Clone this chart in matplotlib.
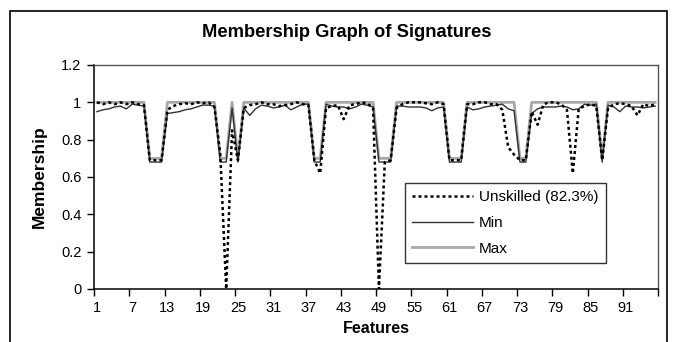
import numpy as np
import matplotlib
matplotlib.use("Agg")
import matplotlib.pyplot as plt
from matplotlib.patches import Rectangle

plt.rcParams['font.family'] = ['Liberation Sans', 'DejaVu Sans']

# membership values per feature (1..96)
features = np.arange(1, 97)

unskilled = [1.0, 0.99, 1.0, 0.99, 1.0, 0.99, 1.0, 0.99, 0.985, 0.69,
             0.69, 0.69, 0.96, 0.98, 0.99, 0.995, 0.99, 1.0, 0.995, 1.0,
             0.975, 0.72, 0.0, 0.85, 0.69, 0.97, 0.985, 0.99, 1.0, 0.99,
             0.99, 0.98, 0.985, 0.99, 1.0, 0.99, 0.985, 0.69, 0.62, 0.97,
             0.98, 0.985, 0.91, 0.985, 0.99, 1.0, 0.995, 0.97, 0.0, 0.68,
             0.69, 0.97, 0.99, 1.0, 1.0, 1.0, 0.995, 0.99, 1.0, 0.99,
             0.69, 0.69, 0.69, 0.99, 0.99, 1.0, 1.0, 0.99, 0.99, 0.96,
             0.76, 0.72, 0.69, 0.69, 0.95, 0.88, 0.99, 1.0, 1.0, 0.99,
             0.96, 0.62, 0.965, 0.98, 0.99, 0.98, 0.69, 0.97, 0.99, 0.995,
             0.99, 0.98, 0.93, 0.99, 0.98, 0.99]

min_vals = [0.95, 0.96, 0.965, 0.975, 0.98, 0.965, 0.99, 0.985, 0.98, 0.68,
            0.68, 0.68, 0.94, 0.945, 0.95, 0.96, 0.965, 0.975, 0.985, 0.985,
            0.98, 0.68, 0.68, 0.97, 0.68, 0.97, 0.93, 0.965, 0.985, 0.98,
            0.97, 0.975, 0.985, 0.96, 0.975, 0.99, 0.99, 0.68, 0.68, 0.99,
            0.98, 0.975, 0.975, 0.965, 0.975, 0.99, 0.985, 0.975, 0.68, 0.68,
            0.68, 0.98, 0.98, 0.975, 0.975, 0.975, 0.97, 0.955, 0.97, 0.975,
            0.68, 0.68, 0.68, 0.975, 0.96, 0.965, 0.975, 0.98, 0.985, 0.99,
            0.965, 0.955, 0.68, 0.68, 0.94, 0.965, 0.975, 0.975, 0.975, 0.98,
            0.975, 0.96, 0.965, 0.99, 0.985, 0.99, 0.68, 0.985, 0.975, 0.95,
            0.98, 0.975, 0.975, 0.97, 0.975, 0.98]

max_vals = [1.0] * 96
for i in [10, 11, 12, 22, 23, 25, 38, 39, 49, 50, 51, 61, 62, 63, 73, 74, 87]:
    max_vals[i - 1] = 0.70

x_labels = [str(v) for v in range(1, 97, 6)]
y_ticks = [0, 0.2, 0.4, 0.6, 0.8, 1.0, 1.2]
y_labels = ['0', '0.2', '0.4', '0.6', '0.8', '1', '1.2']

fig = plt.figure(figsize=(6.79, 3.42), dpi=100)
ax = fig.add_axes([94 / 679, 53 / 342, 564 / 679, 224 / 342])

ax.plot(features, max_vals, color='#a8a8a8', lw=2.0, label='Max', zorder=2)
ax.plot(features, min_vals, color='#333333', lw=1.0, label='Min', zorder=3)
ax.plot(features, unskilled, color='black', lw=1.8, dashes=(1.2, 1.2),
        label='Unskilled (82.3%)', zorder=4)

ax.set_xlim(0.5, 96.5)
ax.set_ylim(0, 1.2)

# tick marks between categories, labels on the categories
ax.set_xticks(np.arange(0.5, 97, 6))
ax.set_xticklabels([])
ax.set_xticks(np.arange(1, 97, 6), minor=True)
ax.set_xticklabels(x_labels, minor=True, fontsize=10.5)
ax.tick_params(axis='x', which='major', direction='out', length=5, width=1)
ax.tick_params(axis='x', which='minor', length=0, pad=9)
ax.set_yticks(y_ticks)
ax.set_yticklabels(y_labels, fontsize=10.5)
ax.tick_params(axis='y', direction='out', length=5, width=1, pad=4)

for side in ['left', 'bottom']:
    ax.spines[side].set_color('black')
    ax.spines[side].set_linewidth(1.1)
for side in ['top', 'right']:
    ax.spines[side].set_color('#555555')
    ax.spines[side].set_linewidth(1.0)

ax.set_xlabel('Features', fontsize=11.5, fontweight='bold', labelpad=4)
ax.set_ylabel('Membership', fontsize=12.5, fontweight='bold', labelpad=10)
fig.text(0.511, 0.905, 'Membership Graph of Signatures', ha='center',
         va='center', fontsize=13.2, fontweight='bold')

handles, labels = ax.get_legend_handles_labels()
order = [2, 1, 0]
leg = ax.legend([handles[i] for i in order], [labels[i] for i in order],
                loc='upper left', bbox_to_anchor=((405 - 94) / 564, (289 - 183) / 224),
                borderaxespad=0, fontsize=11, frameon=True, fancybox=False,
                handlelength=4.0, labelspacing=0.76, borderpad=0.48,
                handletextpad=0.35)
leg.get_frame().set_edgecolor('black')
leg.get_frame().set_linewidth(1.0)

# outer chart border
fig.patches.append(Rectangle((10 / 679, -0.05), 657 / 679, 1 - 11 / 342 + 0.05,
                             transform=fig.transFigure, fill=False,
                             edgecolor='black', lw=1.2))

fig.savefig('out.png', dpi=100)
